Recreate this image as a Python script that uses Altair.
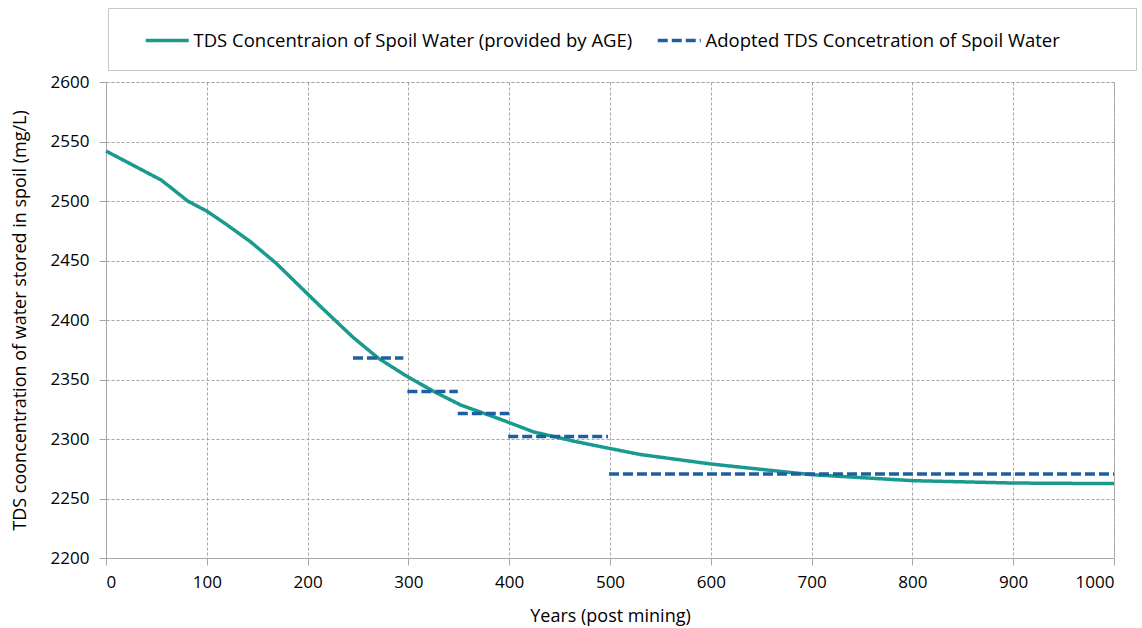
import altair as alt
import pandas as pd

# TDS concentration of spoil water over time (provided by AGE)
years = [0, 55, 81, 100, 120, 143, 169, 212, 245, 270, 296, 325, 352, 390, 424, 465, 500, 530, 600, 700, 800, 900, 1000]
tds = [2542, 2517.5, 2500, 2491.5, 2480, 2466, 2447.5, 2412, 2385.5, 2368, 2354, 2340, 2328.5, 2317, 2306, 2298, 2292, 2287, 2279, 2270, 2265, 2263, 2262.5]

# Adopted step values for each period
seg_start = [245, 299, 349, 399, 499]
seg_end = [295, 349, 400, 498, 1000]
seg_value = [2368, 2340, 2321.5, 2302, 2270.5]

SERIES_AGE = "TDS Concentraion of Spoil Water (provided by AGE)"
SERIES_ADOPT = "Adopted TDS Concetration of Spoil Water"

rows = []
for x, y in zip(years, tds):
    rows.append({"year": x, "tds": y, "series": SERIES_AGE, "seg": "age"})
for i, (a, b, v) in enumerate(zip(seg_start, seg_end, seg_value)):
    rows.append({"year": a, "tds": v, "series": SERIES_ADOPT, "seg": f"s{i}"})
    rows.append({"year": b, "tds": v, "series": SERIES_ADOPT, "seg": f"s{i}"})
df = pd.DataFrame(rows)

FONT = "Open Sans"
GRID = "#a6a6a6"

chart = (
    alt.Chart(df)
    .mark_line(strokeWidth=3.5)
    .encode(
        x=alt.X(
            "year:Q",
            scale=alt.Scale(domain=[0, 1000], nice=False),
            axis=alt.Axis(values=list(range(0, 1001, 100)), format="d",
                          title="Years (post mining)"),
        ),
        y=alt.Y(
            "tds:Q",
            scale=alt.Scale(domain=[2200, 2600], nice=False, zero=False),
            axis=alt.Axis(values=list(range(2200, 2601, 50)), format="d",
                          title="TDS cooncentration of water stored in spoil (mg/L)"),
        ),
        color=alt.Color(
            "series:N",
            scale=alt.Scale(domain=[SERIES_AGE, SERIES_ADOPT], range=["#1a9a8f", "#1d60a0"]),
            legend=alt.Legend(
                # a blank, tiny title on the right only pads the framed box
                title="\u00a0",
                titleOrient="right",
                titleFontSize=1,
                titlePadding=56,
                orient="none",
                legendX=2,
                legendY=-74,
                direction="horizontal",
                strokeColor="#c8c8c8",
                padding=20,
                columnPadding=7,
                symbolOffset=16,
                # long horizontal stroke drawn to the right of the symbol anchor
                symbolType="M-1,0H3",
                symbolSize=462,
                symbolStrokeWidth=3.5,
                labelOffset=24.5,
                labelLimit=600,
                labelFont=FONT,
                labelFontSize=18.5,
                labelColor="#000000",
            ),
        ),
        strokeDash=alt.StrokeDash(
            "series:N",
            scale=alt.Scale(domain=[SERIES_AGE, SERIES_ADOPT], range=[[1, 0], [10, 4]]),
            legend=None,
        ),
        detail="seg:N",
    )
    .properties(
        width=1008,
        height=476,
        autosize=alt.AutoSizeParams(type="none"),
        padding={"left": 106, "top": 82, "right": 28, "bottom": 70},
    )
    .configure_view(stroke=GRID, strokeDash=[3, 2], strokeWidth=1)
    .configure_axis(
        grid=True,
        gridColor=GRID,
        gridDash=[3, 2],
        gridWidth=1,
        domainColor=GRID,
        tickColor=GRID,
        tickSize=7,
        labelFont=FONT,
        labelFontSize=17,
        labelColor="#000000",
        titleFont=FONT,
        titleFontSize=18,
        titleFontWeight="normal",
        titleColor="#000000",
    )
    .configure_axisY(labelPadding=10, titlePadding=21)
    .configure_axisX(labelPadding=9, titlePadding=17)
)

chart.save("out.html", embed_options={"renderer": "svg", "actions": False})
